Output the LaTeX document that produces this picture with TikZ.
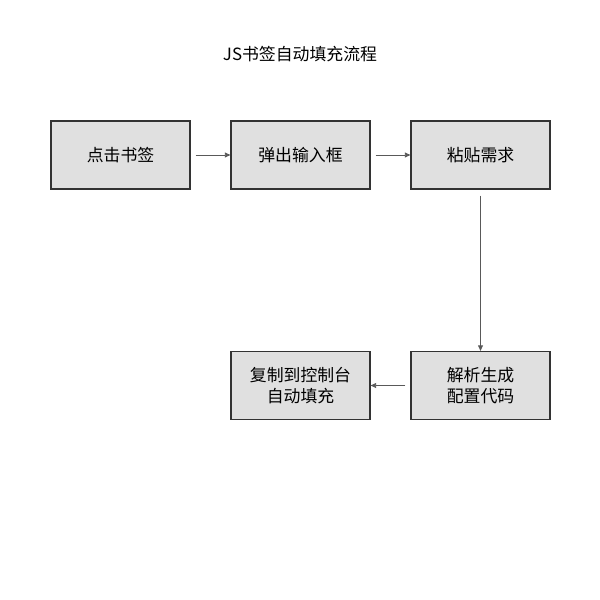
\documentclass[tikz,border=0pt]{standalone}
\usepackage{fontspec}
\setmainfont{Noto Sans CJK SC}
\usetikzlibrary{positioning,arrows.meta}
\begin{document}
\begin{tikzpicture}[x=0.5mm,y=-0.5mm,
    step node/.style={draw=black!80,line width=1.6pt,fill=black!12,minimum width=139*0.5mm,minimum height=68*0.5mm,align=center,font=\fontsize{24}{29}\selectfont,inner sep=0pt},
    flow/.style={-{Triangle[length=8pt,width=7pt]},draw=black!65,line width=1.3pt}]
  \useasboundingbox (0,0) rectangle (600,600);
  \node[font=\fontsize{24}{29}\selectfont] (title) at (300,54) {JS书签自动填充流程};
  \node[step node] (click) at (120.5,155) {点击书签};
  \node[step node] (input) at (300.5,155) {弹出输入框};
  \node[step node] (paste) at (480.5,155) {粘贴需求};
  \node[step node] (parse) at (480.5,385.5) {解析生成\\配置代码};
  \node[step node] (copy) at (300.5,385.5) {复制到控制台\\自动填充};
  % connectors
  \draw[flow,shorten <=5*0.5mm] (click) -- (input);
  \draw[flow,shorten <=5*0.5mm] (input) -- (paste);
  \draw[flow,shorten <=6*0.5mm] (paste) -- (parse);
  \draw[flow,shorten <=5*0.5mm] (parse) -- (copy);
\end{tikzpicture}
\end{document}
